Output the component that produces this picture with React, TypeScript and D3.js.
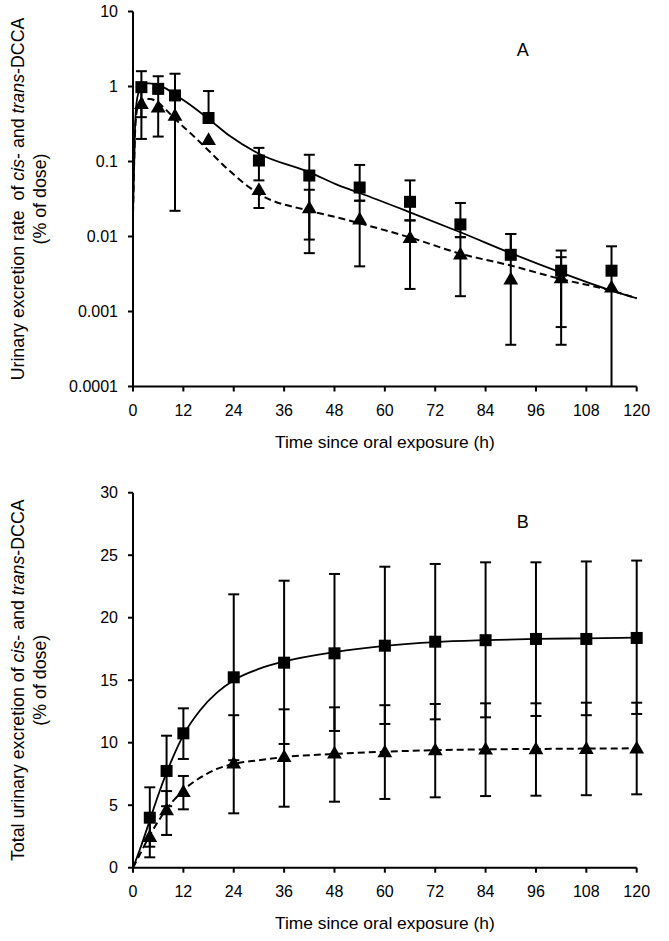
import * as d3 from "d3";

// panel A: excretion rate (log axis)
const timesA = [2, 6, 10, 18, 30, 42, 54, 66, 78, 90, 102, 114];
const squareA = [0.98, 0.93, 0.76, 0.38, 0.103, 0.065, 0.045, 0.029, 0.0145, 0.0057, 0.0035, 0.0035];
const squareHiA = [1.6, 1.37, 1.48, 0.87, 0.152, 0.123, 0.09, 0.056, 0.028, 0.0108, 0.0065, 0.0074];
const squareLoA = [0.39, null, 0.022, null, 0.056, 0.0091, 0.03, 0.0164, 0.0098, null, 0.00062, 0.00001];
const triA = [0.59, 0.53, 0.41, 0.195, 0.042, 0.024, 0.017, 0.0096, 0.0058, 0.0027, 0.0028, 0.0021];
const triHiA = [0.98, 0.93, null, null, null, 0.042, 0.03, 0.0164, 0.0098, 0.0108, 0.0053, null];
const triLoA = [0.2, 0.215, null, null, 0.024, 0.006, 0.004, 0.002, 0.0016, 0.00036, 0.00036, null];

const fitTimesA = [0, 0.5, 1, 2, 3, 4, 6, 8, 10, 14, 18, 23, 30, 42, 49, 54, 66, 78, 90, 102, 114, 120];
const fitSolidA = [0.02, 0.3, 0.7, 1.0, 1.1, 1.1, 1.04, 0.93, 0.78, 0.55, 0.37, 0.22, 0.127, 0.072, 0.048, 0.038, 0.021, 0.0114, 0.006, 0.0033, 0.0019, 0.0015];
const fitDashA = [0.02, 0.25, 0.5, 0.65, 0.68, 0.68, 0.61, 0.48, 0.37, 0.23, 0.14, 0.075, 0.037, 0.022, 0.0178, 0.015, 0.0097, 0.0059, 0.0041, 0.0027, 0.0019, 0.0015];

// panel B: cumulative excretion
const timesB = [4, 8, 12, 24, 36, 48, 60, 72, 84, 96, 108, 120];
const squareB = [4.0, 7.74, 10.75, 15.23, 16.4, 17.15, 17.76, 18.08, 18.2, 18.3, 18.3, 18.38];
const squareHiB = [6.43, 10.56, 12.75, 21.87, 22.96, 23.5, 24.08, 24.3, 24.43, 24.43, 24.5, 24.57];
const squareLoB = [1.68, 4.92, 8.7, 8.6, 9.9, 10.94, 11.5, 11.87, 12.03, 12.14, 12.2, 12.3];
const triB = [2.48, 4.62, 6.08, 8.35, 8.88, 9.15, 9.26, 9.42, 9.47, 9.5, 9.52, 9.55];
const triHiB = [4.1, 6.13, 7.34, 12.2, 12.67, 12.83, 13.0, 13.1, 13.15, 13.15, 13.2, 13.2];
const triLoB = [0.83, 2.62, 4.67, 4.35, 4.88, 5.28, 5.5, 5.63, 5.73, 5.76, 5.8, 5.87];

const fitTimesB = [0, 2, 4, 6, 8, 10, 12, 16, 20, 24, 30, 36, 48, 60, 72, 84, 96, 108, 120];
const fitSolidB = [0, 1.8, 3.8, 5.8, 7.6, 9.2, 10.6, 12.6, 14.0, 15.0, 15.9, 16.5, 17.25, 17.75, 18.05, 18.2, 18.3, 18.35, 18.4];
const fitDashB = [0, 1.3, 2.6, 3.7, 4.7, 5.5, 6.2, 7.2, 7.9, 8.3, 8.6, 8.85, 9.1, 9.28, 9.4, 9.47, 9.5, 9.53, 9.55];

const xTicks = [0, 12, 24, 36, 48, 60, 72, 84, 96, 108, 120];
const yTicksA = [0.0001, 0.001, 0.01, 0.1, 1, 10];
const yTickLabelsA = ["0.0001", "0.001", "0.01", "0.1", "1", "10"];
const yTicksB = [0, 5, 10, 15, 20, 25, 30];

const FONT = "'Liberation Sans', Arial, sans-serif";
const W = 669;
const H = 941;
const left = 133;
const right = 636.7;

const x = d3.scaleLinear().domain([0, 120]).range([left, right]);

function ErrorBar({ t, mean, lo, hi, y, minV }) {
  const cx = x(t);
  const clampLo = lo != null && lo < minV;
  const y1 = hi != null ? y(hi) : y(mean);
  const y2 = lo != null ? y(clampLo ? minV : lo) : y(mean);
  return (
    <g stroke="#000" strokeWidth={2}>
      <line x1={cx} x2={cx} y1={y1} y2={y2} />
      {hi != null && <line x1={cx - 5.5} x2={cx + 5.5} y1={y1} y2={y1} />}
      {lo != null && !clampLo && <line x1={cx - 5.5} x2={cx + 5.5} y1={y2} y2={y2} />}
    </g>
  );
}

function Panel({ y, top, bottom, ticks, tickLabels, times, sq, sqHi, sqLo, tri, triHi, triLo, fitT, fitS, fitD, minV, letter, titleStart }) {
  const line = d3
    .line()
    .x((d) => x(d[0]))
    .y((d) => y(d[1]))
    .curve(d3.curveMonotoneX);
  const solid = line(fitT.map((t, i) => [t, fitS[i]]));
  const dash = line(fitT.map((t, i) => [t, fitD[i]]));
  const triPath = d3.symbol(d3.symbolTriangle, 95)();
  const midY = (top + bottom) / 2;
  return (
    <g>
      {/* axes */}
      <g stroke="#000" strokeWidth={2} fill="none">
        <line x1={left} x2={left} y1={top} y2={bottom} />
        <line x1={left} x2={right} y1={bottom} y2={bottom} />
        {ticks.map((v) => (
          <line key={"yt" + v} x1={left - 5} x2={left} y1={y(v)} y2={y(v)} />
        ))}
        {xTicks.map((v) => (
          <line key={"xt" + v} x1={x(v)} x2={x(v)} y1={bottom} y2={bottom + 5} />
        ))}
      </g>
      <g fontFamily={FONT} fontSize={16} fill="#000">
        {ticks.map((v, i) => (
          <text key={"yl" + v} x={left - 15} y={y(v)} dy="0.35em" textAnchor="end">
            {tickLabels[i]}
          </text>
        ))}
        {xTicks.map((v) => (
          <text key={"xl" + v} x={x(v)} y={bottom + 24} dy="0.35em" textAnchor="middle">
            {v}
          </text>
        ))}
        <text x={(left + right) / 2} y={bottom + 55} dy="0.35em" textAnchor="middle" fontSize={17.4}>
          Time since oral exposure (h)
        </text>
        <text x={522.7} y={top + (letter === "A" ? 38.5 : 29)} dy="0.35em" textAnchor="middle" fontSize={18}>
          {letter}
        </text>
        <g transform={`translate(18,${midY}) rotate(-90)`} fontSize={17.8}>
          <text x={0} y={0} dy="0.35em" textAnchor="middle" style={{ whiteSpace: "pre" }}>
            {titleStart}
            <tspan fontStyle="italic">cis</tspan>- and <tspan fontStyle="italic">trans</tspan>-DCCA
          </text>
          <text x={0} y={22} dy="0.35em" textAnchor="middle">
            (% of dose)
          </text>
        </g>
      </g>
      {/* fitted curves */}
      <path d={solid} fill="none" stroke="#000" strokeWidth={1.8} />
      <path d={dash} fill="none" stroke="#000" strokeWidth={2} strokeDasharray="7,4" />
      {/* error bars */}
      {times.map((t, i) => (
        <g key={"e" + t}>
          <ErrorBar t={t} mean={sq[i]} lo={sqLo[i]} hi={sqHi[i]} y={y} minV={minV} />
          <ErrorBar t={t} mean={tri[i]} lo={triLo[i]} hi={triHi[i]} y={y} minV={minV} />
        </g>
      ))}
      {/* markers */}
      {times.map((t, i) => (
        <rect key={"s" + t} x={x(t) - 6} y={y(sq[i]) - 6} width={12} height={12} fill="#000" />
      ))}
      {times.map((t, i) => (
        <path key={"t" + t} d={triPath} transform={`translate(${x(t)},${y(tri[i]) + 1})`} fill="#000" />
      ))}
    </g>
  );
}

export default function App() {
  const yA = d3.scaleLog().domain([0.0001, 10]).range([386.5, 11.5]);
  const yB = d3.scaleLinear().domain([0, 30]).range([867.7, 492.7]);
  return (
    <svg width={W} height={H} style={{ position: "absolute", left: 0, top: 0, background: "#fff" }}>
      <Panel
        y={yA}
        top={11.5}
        bottom={386.5}
        ticks={yTicksA}
        tickLabels={yTickLabelsA}
        times={timesA}
        sq={squareA}
        sqHi={squareHiA}
        sqLo={squareLoA}
        tri={triA}
        triHi={triHiA}
        triLo={triLoA}
        fitT={fitTimesA}
        fitS={fitSolidA}
        fitD={fitDashA}
        minV={0.0001}
        letter="A"
        titleStart="Urinary excretion rate  of "
      />
      <Panel
        y={yB}
        top={492.7}
        bottom={867.7}
        ticks={yTicksB}
        tickLabels={yTicksB.map(String)}
        times={timesB}
        sq={squareB}
        sqHi={squareHiB}
        sqLo={squareLoB}
        tri={triB}
        triHi={triHiB}
        triLo={triLoB}
        fitT={fitTimesB}
        fitS={fitSolidB}
        fitD={fitDashB}
        minV={0}
        letter="B"
        titleStart="Total urinary excretion of "
      />
    </svg>
  );
}
